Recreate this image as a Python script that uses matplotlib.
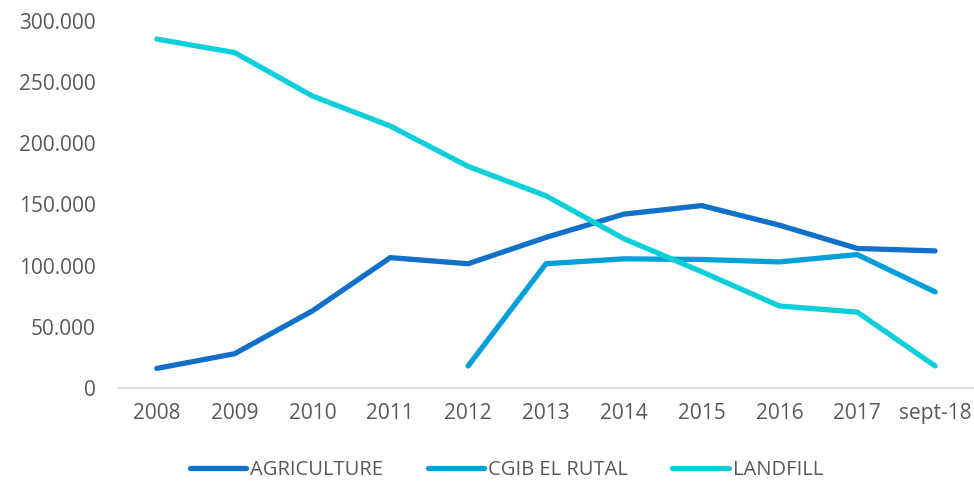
import matplotlib.pyplot as plt
from matplotlib.ticker import FuncFormatter

years = ["2008", "2009", "2010", "2011", "2012", "2013", "2014", "2015", "2016", "2017", "sept-18"]
agriculture = [16000, 28000, 63000, 106500, 101500, 123000, 142000, 149000, 133000, 114000, 112000]
cgib = [None, None, None, None, 18000, 101500, 105500, 105000, 103000, 109000, 78500]
landfill = [285000, 274000, 238500, 214000, 181000, 157000, 122000, 95000, 67000, 62000, 18000]

colors = ["#1170C8", "#039FD9", "#0DCFD9"]
text_color = "#595959"

plt.rcParams["font.family"] = ["Open Sans", "DejaVu Sans"]

fig = plt.figure(figsize=(9.74, 4.82), dpi=100)
ax = fig.add_axes([0.121, 0.195, 0.879, 0.762])

x = list(range(len(years)))
cg_x = [i for i, v in zip(x, cgib) if v is not None]
cg_y = [v for v in cgib if v is not None]

ax.plot(x, agriculture, color=colors[0], lw=3.8, solid_capstyle="round", label="AGRICULTURE")
ax.plot(cg_x, cg_y, color=colors[1], lw=3.8, solid_capstyle="round", label="CGIB EL RUTAL")
ax.plot(x, landfill, color=colors[2], lw=3.8, solid_capstyle="round", label="LANDFILL")

ax.set_xlim(-0.5, len(years) - 0.5)
ax.set_ylim(0, 300000)
ax.set_yticks(range(0, 300001, 50000))
ax.yaxis.set_major_formatter(FuncFormatter(lambda v, p: "0" if v == 0 else f"{int(v):,}".replace(",", ".")))
ax.set_xticks(x)
ax.set_xticklabels(years)

for s in ["top", "right", "left"]:
    ax.spines[s].set_visible(False)
ax.spines["bottom"].set_color("#D9D9D9")
ax.spines["bottom"].set_linewidth(1.2)
ax.tick_params(axis="both", length=0, colors=text_color, labelsize=15)
ax.tick_params(axis="x", pad=11)
ax.tick_params(axis="y", pad=16)

leg = fig.legend(loc="center", bbox_to_anchor=(0.52, 0.025), ncol=3, frameon=False,
                 fontsize=14.5, handlelength=2.8, handletextpad=0.2, columnspacing=2.2)
for t in leg.get_texts():
    t.set_color(text_color)

fig.savefig("out.png", dpi=100)
